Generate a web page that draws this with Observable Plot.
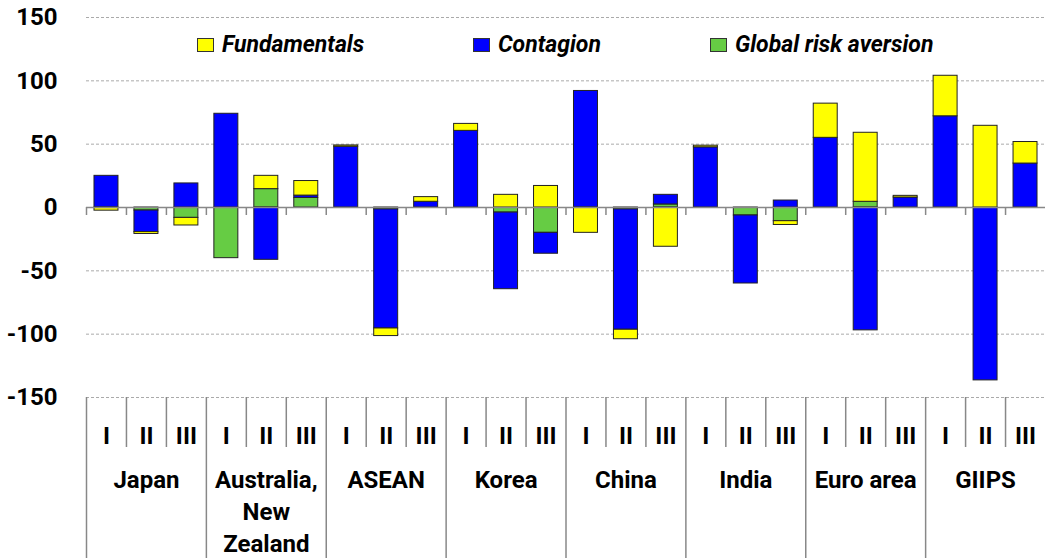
<!DOCTYPE html>
<html>
<head>
<meta charset="utf-8">
<script src="https://cdn.jsdelivr.net/npm/d3@7"></script>
<script src="https://cdn.jsdelivr.net/npm/@observablehq/plot@0.6"></script>
<style>
  html, body { margin: 0; padding: 0; background: #fff; }
  #wrap { position: relative; width: 1045px; height: 558px; overflow: hidden;
    font-family: Roboto, "Liberation Sans", sans-serif; }
  .lg { position: absolute; top: 31px; display: flex; align-items: center; font-style: italic; font-size: 23px; font-weight: bold; color: #000; }
  .lg .sw { display: inline-block; width: 15px; height: 12px; border: 1.5px solid #333; margin-right: 8px; }
</style>
</head>
<body>
<div id="wrap"></div>
<script>
// ---- data ----
const groups = ["Japan", "Australia,\nNew\nZealand", "ASEAN", "Korea", "China", "India", "Euro area", "GIIPS"];
const periods = ["I", "II", "III"];
const seriesNames = ["Fundamentals", "Contagion", "Global risk aversion"];
const seriesColors = ["#ffff00", "#0000ff", "#66cc44"];
// one value per (group, period), in order Japan I, II, III, Australia I, ...
const fundamentals = [-2.5, -1.5, -6,   0, 10.5, 11.5,   1, -6, 3.7,   5.5, 10, 17,   -20, -7.5, -31,   1.3, 0, -3,   27, 54.5, 1.3,   32, 64.5, 17];
const contagion    = [25, -17, 19,   74, -41.3, 1.8,   48, -94, 4.5,   60.5, -60.5, -16.5,   92, -95, 7.6,   47.5, -53.7, 5.5,   55, -97, 7.9,   72, -136.5, 34.7];
const globalRisk   = [0, -2.4, -8.2,   -40, 14.5, 7.6,   0, -1.5, 0,   0, -4, -20,   0, -1.5, 2.4,   0, -6.3, -10.8,   0, 4.5, 0,   0, 0, 0];
const yTicks = [-150, -100, -50, 0, 50, 100, 150];

// ---- build table ----
const keys = [];
const rows = [];
const seriesValues = {"Fundamentals": fundamentals, "Contagion": contagion, "Global risk aversion": globalRisk};
const stackOrder = ["Global risk aversion", "Contagion", "Fundamentals"];
groups.forEach((g, gi) => periods.forEach((p, pi) => {
  const i = gi * periods.length + pi;
  const key = g + "|" + p;
  keys.push({key, group: g, period: p, gi, pi});
  for (const s of stackOrder) {
    const v = seriesValues[s][i];
    if (v !== 0) rows.push({key, series: s, value: v});
  }
}));

const W = 1045, H = 558, mL = 86, mR = 0, mT = 17, mB = 161;
const half = (W - mL - mR) / keys.length / 2;
const pxPerUnit = (H - mT - mB) / 300;
const below = px => -150 - px / pxPerUnit; // value at px pixels below the bottom of the frame

const font = 'Roboto, "Liberation Sans", sans-serif';

const chart = Plot.plot({
  width: W, height: H,
  marginLeft: mL, marginRight: mR, marginTop: mT, marginBottom: mB,
  style: {fontFamily: font, fontSize: "24px", fontWeight: "bold", background: "#fff", color: "#000", overflow: "visible"},
  x: {domain: keys.map(d => d.key), paddingInner: 0.4, paddingOuter: 0.2, round: false, axis: null},
  y: {domain: [-150, 150], axis: null},
  color: {domain: seriesNames, range: seriesColors},
  marks: [
    Plot.ruleY(yTicks.filter(d => d !== 0), {y: d => d, stroke: "#aaa", strokeWidth: 1, strokeDasharray: "3,2"}),
    Plot.text(yTicks, {y: d => d, text: d => String(d), frameAnchor: "left", dx: -29, textAnchor: "end", fontSize: 24, fontWeight: "bold", fill: "#000"}),
    Plot.barY(rows, {x: "key", y: "value", fill: "series", stroke: "#222", strokeWidth: 1, order: null}),
    Plot.ruleY([0], {stroke: "#888", strokeWidth: 1.5}),
    // small ticks under the zero line at slot boundaries
    Plot.ruleX(keys, {x: "key", dx: -half, y1: 0, y2: -8 / pxPerUnit, stroke: "#888", strokeWidth: 1.5}),
    // short separators between periods
    Plot.ruleX(keys.filter(d => d.pi > 0), {x: "key", dx: -half, y1: -150, y2: below(50), stroke: "#888", strokeWidth: 1.5}),
    // long separators between groups
    Plot.ruleX(keys.filter(d => d.pi === 0), {x: "key", dx: -half, y1: -150, y2: below(165), stroke: "#888", strokeWidth: 1.5}),
    // period labels
    Plot.text(keys, {x: "key", text: "period", frameAnchor: "bottom", dy: 39, lineAnchor: "middle", fontSize: 24, fontWeight: "bold", fill: "#000"}),
    // group labels
    Plot.text(keys.filter(d => d.pi === 1), {x: "key", text: "group", frameAnchor: "bottom", dy: 67, lineAnchor: "top", lineHeight: 1.35, fontSize: 24, fontWeight: "bold", fill: "#000"})
  ]
});

const wrap = document.getElementById("wrap");
wrap.appendChild(chart);

// legend overlay
const legendLeft = [197, 473, 710];
seriesNames.forEach((s, i) => {
  const d = document.createElement("div");
  d.className = "lg";
  d.style.left = legendLeft[i] + "px";
  const sw = document.createElement("span");
  sw.className = "sw";
  sw.style.background = seriesColors[i];
  const t = document.createElement("span");
  t.textContent = s;
  d.appendChild(sw); d.appendChild(t);
  wrap.appendChild(d);
});
</script>
</body>
</html>
